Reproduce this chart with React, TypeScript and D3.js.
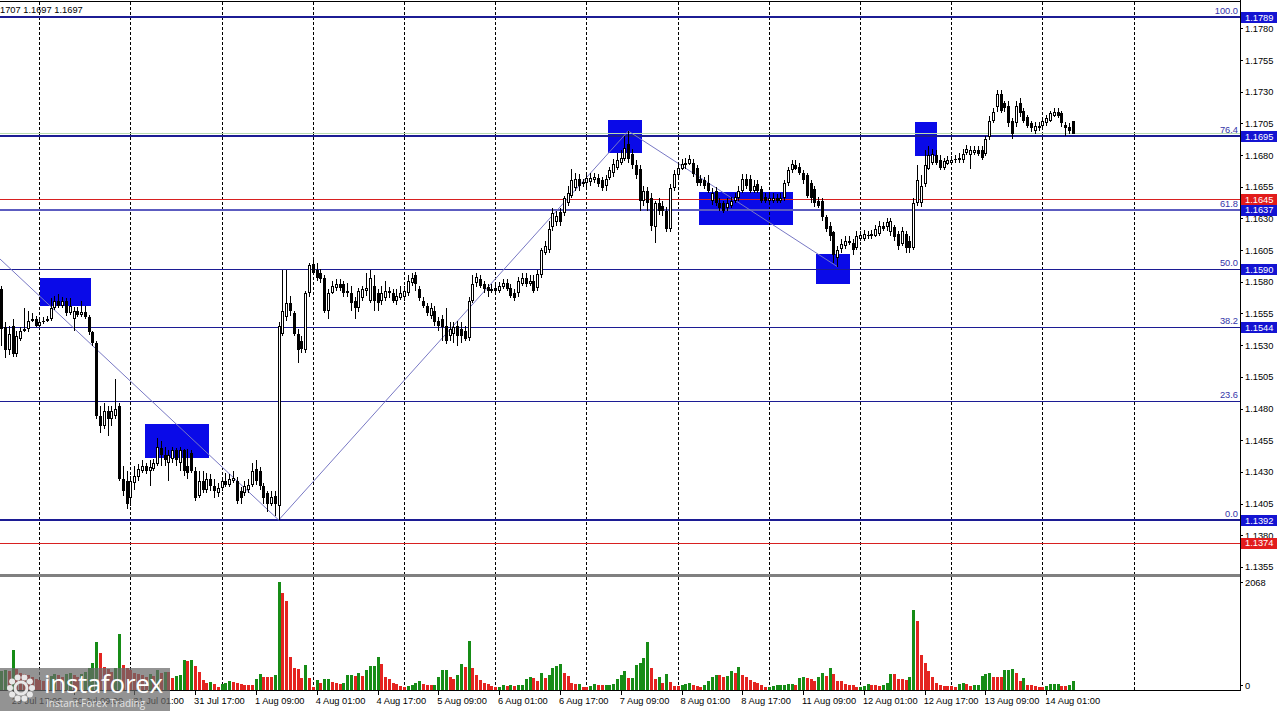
import React from "react";
import * as d3 from "d3";

// bar index 0 = 30 Jul 00:00 (H1 bars, weekend skipped)
const FIRST_BAR = -10;

// prices in pips (1/10000)
const opens = [11574,11544,11526,11545,11523,11535,11541,11543,11549,11551,
11545,11548,11549,11551,11559,11565,11561,11565,11555,11551,11557,11554,11556,11552,11540,11532,11474,11466,11478,11472,
11474,11482,11424,11423,11409,11421,11426,11431,11435,11431,11432,11436,11449,11443,11437,11440,11447,11437,11447,11435,
11445,11431,11411,11423,11416,11424,11419,11413,11417,11423,11420,11423,11423,11415,11413,11416,11420,11432,11431,11419,
11413,11405,11411,11403,11539,11552,11563,11555,11539,11533,11526,11571,11594,11589,11587,11583,11557,11571,11575,11578,
11578,11573,11571,11565,11559,11567,11573,11565,11577,11571,11565,11567,11573,11571,11565,11567,11568,11571,11579,11585,
11574,11565,11561,11553,11557,11549,11551,11545,11537,11539,11545,11543,11541,11536,11565,11579,11582,11578,11576,11573,
11575,11573,11576,11579,11575,11571,11571,11578,11583,11578,11581,11575,11585,11603,11605,11623,11627,11635,11634,11642,
11648,11654,11661,11659,11658,11659,11660,11662,11660,11656,11662,11666,11670,11674,11677,11689,11681,11672,11669,11644,
11652,11646,11623,11642,11640,11636,11622,11654,11664,11669,11672,11673,11674,11670,11661,11660,11658,11644,11652,11642,
11642,11638,11640,11644,11646,11652,11661,11661,11652,11657,11653,11647,11644,11644,11646,11644,11646,11658,11668,11672,
11671,11666,11664,11658,11653,11644,11644,11631,11624,11619,11599,11606,11608,11611,11611,11607,11614,11614,11616,11616,
11616,11618,11624,11623,11619,11623,11618,11610,11618,11612,11607,11642,11642,11657,11669,11674,11680,11676,11670,11673,
11674,11676,11676,11676,11682,11680,11682,11684,11684,11681,11694,11707,11718,11728,11721,11719,11707,11705,11721,11715,
11710,11705,11699,11701,11703,11705,11707,11711,11714,11713,11704,11702,11707];

const highs = [11577,11548,11545,11551,11541,11544,11559,11557,11555,11553,
11551,11552,11553,11567,11569,11570,11568,11567,11567,11560,11560,11565,11561,11554,11541,11533,11482,11484,11482,11482,
11503,11484,11435,11431,11427,11435,11436,11439,11437,11439,11440,11457,11454,11450,11447,11450,11449,11450,11448,11448,
11447,11434,11431,11431,11429,11428,11424,11421,11426,11429,11428,11431,11426,11418,11423,11424,11437,11439,11434,11421,
11415,11415,11415,11548,11589,11589,11569,11557,11543,11537,11573,11595,11597,11595,11590,11585,11574,11581,11582,11582,
11581,11579,11577,11568,11575,11577,11587,11589,11585,11574,11577,11581,11576,11574,11574,11577,11577,11585,11587,11588,
11577,11568,11563,11563,11561,11552,11554,11559,11548,11548,11549,11548,11545,11568,11585,11587,11585,11581,11578,11578,
11578,11580,11582,11582,11578,11574,11584,11587,11587,11585,11585,11589,11607,11612,11628,11638,11636,11638,11648,11656,
11669,11666,11665,11661,11666,11666,11666,11665,11663,11664,11671,11677,11682,11684,11695,11699,11685,11676,11672,11656,
11655,11650,11644,11646,11644,11639,11657,11668,11674,11677,11678,11680,11677,11672,11664,11663,11664,11654,11655,11646,
11644,11646,11647,11650,11656,11665,11665,11664,11660,11660,11656,11650,11649,11650,11649,11650,11660,11671,11676,11676,
11674,11668,11666,11660,11656,11647,11646,11633,11627,11620,11608,11614,11616,11616,11614,11620,11620,11621,11620,11621,
11625,11628,11627,11630,11630,11625,11620,11623,11620,11616,11646,11672,11664,11684,11687,11685,11684,11680,11678,11679,
11679,11680,11682,11685,11688,11687,11687,11687,11687,11695,11711,11717,11731,11731,11723,11723,11709,11723,11725,11717,
11712,11707,11706,11706,11710,11712,11715,11717,11717,11715,11706,11705,11707];

const lows = [11529,11520,11522,11521,11521,11533,11540,11540,11548,11544,
11544,11547,11548,11549,11558,11559,11559,11553,11554,11541,11552,11552,11551,11538,11529,11472,11461,11464,11458,11466,
11472,11423,11411,11401,11403,11416,11423,11429,11428,11419,11431,11435,11435,11435,11423,11437,11435,11431,11427,11424,
11429,11407,11409,11413,11413,11415,11409,11410,11415,11418,11418,11421,11405,11405,11411,11413,11418,11420,11416,11405,
11398,11403,11395,11392,11537,11549,11553,11537,11516,11524,11524,11568,11585,11581,11579,11555,11551,11570,11573,11573,
11568,11568,11557,11551,11556,11565,11569,11563,11557,11557,11562,11565,11567,11563,11562,11566,11565,11569,11577,11573,
11565,11559,11553,11551,11545,11541,11533,11531,11533,11532,11529,11532,11533,11533,11563,11576,11575,11571,11568,11571,
11571,11571,11574,11573,11567,11565,11568,11577,11576,11577,11571,11573,11583,11601,11603,11620,11624,11624,11632,11640,
11646,11652,11652,11655,11655,11656,11658,11655,11652,11652,11660,11663,11668,11672,11675,11674,11669,11661,11636,11640,
11636,11620,11611,11633,11632,11619,11619,11652,11661,11668,11669,11672,11663,11656,11656,11653,11650,11641,11640,11636,
11634,11636,11638,11642,11644,11650,11653,11650,11650,11650,11642,11642,11642,11642,11642,11642,11644,11656,11666,11668,
11664,11657,11646,11642,11639,11638,11628,11619,11612,11595,11592,11603,11606,11609,11601,11605,11612,11612,11614,11614,
11615,11616,11620,11620,11616,11612,11605,11608,11603,11603,11605,11640,11639,11655,11668,11672,11672,11668,11668,11672,
11672,11674,11674,11674,11680,11669,11680,11679,11676,11679,11692,11705,11714,11713,11714,11702,11693,11702,11710,11705,
11701,11698,11697,11699,11701,11703,11706,11710,11709,11702,11695,11697,11697];

const closes = [11543,11526,11539,11523,11537,11541,11543,11549,11551,11545,
11548,11549,11551,11559,11565,11561,11565,11555,11561,11557,11554,11556,11552,11540,11532,11474,11466,11478,11472,11478,
11480,11424,11415,11405,11423,11427,11432,11435,11431,11434,11437,11450,11443,11439,11443,11447,11439,11447,11431,11429,
11431,11409,11423,11416,11424,11419,11415,11417,11423,11420,11424,11425,11407,11409,11419,11420,11431,11423,11419,11409,
11405,11410,11405,11545,11557,11563,11557,11539,11526,11527,11571,11593,11587,11583,11582,11557,11571,11577,11578,11575,
11571,11571,11563,11559,11573,11574,11575,11583,11565,11563,11571,11573,11571,11565,11569,11571,11573,11581,11583,11578,
11567,11561,11555,11559,11548,11545,11544,11533,11543,11544,11537,11537,11535,11565,11578,11584,11577,11574,11573,11574,
11573,11577,11579,11574,11569,11567,11581,11583,11578,11581,11573,11586,11605,11608,11622,11634,11632,11627,11646,11650,
11660,11661,11656,11657,11662,11662,11663,11657,11654,11661,11668,11673,11676,11678,11686,11677,11672,11664,11644,11652,
11642,11624,11642,11636,11636,11622,11654,11665,11670,11673,11674,11677,11665,11658,11658,11656,11652,11650,11642,11638,
11636,11642,11644,11647,11652,11661,11656,11652,11656,11652,11644,11644,11646,11646,11644,11646,11658,11668,11673,11669,
11666,11660,11648,11646,11642,11640,11631,11622,11616,11601,11605,11610,11612,11612,11605,11616,11617,11618,11617,11618,
11622,11624,11622,11627,11628,11615,11608,11620,11607,11607,11642,11660,11656,11672,11680,11681,11674,11670,11675,11676,
11676,11677,11678,11681,11685,11684,11684,11681,11678,11693,11707,11714,11728,11715,11717,11705,11697,11719,11713,11707,
11703,11701,11703,11703,11707,11709,11713,11714,11711,11705,11701,11699,11697];

const volumes = [360,383,370,766,400,330,300,280,250,220,
200,180,170,260,300,280,240,300,330,280,250,300,350,420,520,926,702,447,400,350,
420,1072,479,420,380,330,300,280,250,300,260,380,330,351,340,223,268,287,575,562,
570,460,351,192,128,160,115,64,115,140,179,160,140,115,105,96,92,204,306,255,
250,245,287,2068,1851,1711,638,415,410,223,479,223,64,192,140,204,215,160,140,115,
140,287,295,268,319,268,383,460,465,630,490,255,204,128,115,80,55,80,96,128,
179,115,96,90,100,240,383,390,255,215,287,498,447,945,415,287,192,128,115,80,
55,64,96,86,90,86,90,96,204,255,223,179,319,223,287,430,460,498,319,268,
128,115,118,64,55,80,115,96,94,96,98,115,204,287,370,223,230,479,524,606,
926,415,204,243,128,306,160,80,78,96,115,128,96,80,64,96,179,255,287,285,
255,260,369,319,447,287,255,192,160,140,96,64,66,80,90,100,104,106,108,96,
223,243,223,220,179,255,319,268,415,306,179,175,115,96,90,64,66,70,115,96,
94,86,90,140,306,300,215,204,192,243,1532,1328,670,524,360,255,128,96,86,80,
70,64,115,128,110,86,88,96,268,306,319,245,243,240,383,390,395,319,179,223,
96,94,80,64,55,86,110,112,114,86,80,96,179];

const priceTicks = [1.178, 1.1755, 1.173, 1.1705, 1.168, 1.1655, 1.163, 1.1605, 1.158, 1.1555,
  1.153, 1.1505, 1.148, 1.1455, 1.143, 1.1405, 1.138, 1.1355];
const volumeTicks = [2068, 0];

const fibLevels = [1.1789, 1.1695, 1.1637, 1.159, 1.1544, 1.14857, 1.1392];
const fibNames = ["100.0", "76.4", "61.8", "50.0", "38.2", "23.6", "0.0"];
const fibWidths = [2, 2, 2, 1, 1, 1, 2];
const fibOnAxis = [true, true, true, true, true, false, true];
const redLevels = [1.1645, 1.1374];
const bidPrice = 1.1697;

const timeTickBars = [-7, 9, 25, 41, 57, 73, 89, 105, 121, 137, 153, 169, 185, 201, 217, 233, 249, 265];
const timeTickLabels = ["29 Jul 17:00", "30 Jul 09:00", "31 Jul 01:00", "31 Jul 17:00", "1 Aug 09:00",
  "4 Aug 01:00", "4 Aug 17:00", "5 Aug 09:00", "6 Aug 01:00", "6 Aug 17:00", "7 Aug 09:00",
  "8 Aug 01:00", "8 Aug 17:00", "11 Aug 09:00", "12 Aug 01:00", "12 Aug 17:00", "13 Aug 09:00", "14 Aug 01:00"];
const dayStartBars = [0, 24, 48, 72, 96, 120, 144, 168, 192, 216, 240, 264, 288];

// annotation rectangles: bar range and price range
const boxFromBar = [0.2, 27.8, 149.7, 173.6, 204.4, 230.4];
const boxToBar = [13.6, 44.7, 158.6, 198.4, 213.3, 236.2];
const boxHigh = [1.1583, 1.1468, 1.1708, 1.1651, 1.1602, 1.1706];
const boxLow = [1.1561, 1.1441, 1.1682, 1.1625, 1.1578, 1.1679];

// trend lines
const trendFromBar = [-10.35, 63, 155];
const trendFromPrice = [1.1598, 1.1392, 1.1699];
const trendToBar = [63, 155, 210];
const trendToPrice = [1.1392, 1.1699, 1.1592];

const topInfo = "1707 1.1697 1.1697";

const W = 1280, H = 711;
const AXIS_X = 1240;
const FONT = "'Liberation Sans', Arial, sans-serif";

export default function App() {
  const x = d3.scaleLinear().domain([0, 288]).range([39.3, 39.3 + 288 * 3.8]);
  const y = d3.scaleLinear().domain([1.1392, 1.1789]).range([520, 17]);
  const yv = d3.scaleLinear().domain([0, 2068]).range([690, 582]);
  const P = (v: number) => v / 10000;

  const bars = d3.range(opens.length).map((k) => ({
    i: FIRST_BAR + k,
    o: P(opens[k]), h: P(highs[k]), l: P(lows[k]), c: P(closes[k]),
    v: volumes[k],
    up: k === 0 ? true : volumes[k] > volumes[k - 1],
  }));

  const crisp = (v: number) => Math.round(v) + 0.5;
  const trendLine = d3.line<[number, number]>().x((d) => x(d[0])).y((d) => y(d[1]));

  return (
    <svg width={W} height={H} style={{ position: "absolute", left: 0, top: 0, background: "#fff" }}
      fontFamily={FONT}>
      <rect x={0} y={0} width={W} height={H} fill="#ffffff" />
      <clipPath id="pane"><rect x={0} y={2} width={AXIS_X} height={573} /></clipPath>
      <clipPath id="vpane"><rect x={0} y={577} width={AXIS_X} height={113} /></clipPath>

      {/* annotation boxes */}
      <g clipPath="url(#pane)">
        {boxFromBar.map((b, k) => (
          <rect key={"bx" + k} x={Math.round(x(boxFromBar[k]))} y={Math.round(y(boxHigh[k]))}
            width={Math.round(x(boxToBar[k]) - x(boxFromBar[k]))}
            height={Math.round(y(boxLow[k]) - y(boxHigh[k]))} fill="#0a0ae8" />
        ))}
      </g>

      {/* grid */}
      {dayStartBars.map((b) => (
        <line key={"g" + b} x1={crisp(x(b))} x2={crisp(x(b))} y1={2} y2={690}
          stroke="#000" strokeWidth={1} strokeDasharray="3,2" />
      ))}

      {/* levels */}
      <g clipPath="url(#pane)">
        <line x1={0} x2={AXIS_X} y1={crisp(y(bidPrice)) - 1} y2={crisp(y(bidPrice)) - 1} stroke="#b9dcb0" strokeWidth={1} />
        {fibLevels.map((v, k) => (
          <line key={"f" + k} x1={0} x2={AXIS_X} y1={fibWidths[k] === 2 ? Math.round(y(v)) : crisp(y(v))}
            y2={fibWidths[k] === 2 ? Math.round(y(v)) : crisp(y(v))}
            stroke={k === 2 ? "#5c5cc0" : "#1c1c94"} strokeWidth={fibWidths[k]} />
        ))}
        {redLevels.map((v, k) => (
          <line key={"r" + k} x1={0} x2={AXIS_X} y1={crisp(y(v))} y2={crisp(y(v))} stroke="#d82020" strokeWidth={1} />
        ))}
        {trendFromBar.map((b, k) => (
          <path key={"t" + k} d={trendLine([[trendFromBar[k], trendFromPrice[k]], [trendToBar[k], trendToPrice[k]]]) || ""}
            stroke="#7878c4" strokeWidth={1} fill="none" />
        ))}

        {/* candles */}
        {bars.map((d) => {
          const cx = crisp(x(d.i));
          const top = Math.round(y(Math.max(d.o, d.c)));
          const bot = Math.round(y(Math.min(d.o, d.c)));
          const hgt = Math.max(1, bot - top);
          const hi = Math.min(y(d.h), top);
          const lo = Math.max(y(d.l), bot);
          const bull = d.c >= d.o;
          return (
            <g key={"c" + d.i}>
              <line x1={cx} x2={cx} y1={Math.round(hi)} y2={Math.round(lo)} stroke="#000" strokeWidth={1} />
              <rect x={cx - 1.5} y={top} width={3} height={hgt} fill="#000" />
              {bull && hgt > 2 && <rect x={cx - 0.5} y={top + 1} width={1} height={hgt - 2} fill="#fff" />}
            </g>
          );
        })}
      </g>

      {/* volumes */}
      <g clipPath="url(#vpane)">
        {bars.map((d) => (
          <rect key={"v" + d.i} x={Math.round(x(d.i)) - 1} y={Math.round(yv(d.v))} width={3}
            height={690 - Math.round(yv(d.v))} fill={d.up ? "#168c16" : "#e42420"} />
        ))}
      </g>

      {/* frame */}
      <line x1={0} x2={AXIS_X} y1={1.5} y2={1.5} stroke="#000" strokeWidth={1} />
      <line x1={0} x2={AXIS_X} y1={575.5} y2={575.5} stroke="#808080" strokeWidth={3} />
      <line x1={AXIS_X + 0.5} x2={AXIS_X + 0.5} y1={0} y2={691} stroke="#000" strokeWidth={1} />
      <line x1={0} x2={AXIS_X + 1} y1={690.5} y2={690.5} stroke="#000" strokeWidth={1} />

      {/* price axis */}
      {priceTicks.map((v) => (
        <g key={"pt" + v}>
          <line x1={AXIS_X} x2={AXIS_X + 3} y1={crisp(y(v))} y2={crisp(y(v))} stroke="#000" />
          <text x={AXIS_X + 5} y={y(v) + 3.5} fontSize={9.3} fill="#000">{v.toFixed(4)}</text>
        </g>
      ))}
      {volumeTicks.map((v) => (
        <g key={"vt" + v}>
          <line x1={AXIS_X} x2={AXIS_X + 3} y1={crisp(yv(v)) - (v === 0 ? 5 : 0)} y2={crisp(yv(v)) - (v === 0 ? 5 : 0)} stroke="#000" />
          <text x={AXIS_X + 5} y={yv(v) + (v === 0 ? -1.5 : 4)} fontSize={9.3} fill="#000">{v}</text>
        </g>
      ))}

      {/* axis label boxes */}
      {fibLevels.map((v, k) => fibOnAxis[k] && (
        <g key={"fb" + k}>
          <rect x={AXIS_X + 1} y={Math.round(y(v)) - 5} width={36} height={11} fill="#1414d2" />
          <text x={AXIS_X + 5} y={y(v) + 3.5} fontSize={9.3} fill="#fff">{v.toFixed(4)}</text>
        </g>
      ))}
      {redLevels.map((v, k) => (
        <g key={"rb" + k}>
          <rect x={AXIS_X + 1} y={Math.round(y(v)) - 5} width={36} height={11} fill="#e21c1c" />
          <text x={AXIS_X + 5} y={y(v) + 3.5} fontSize={9.3} fill="#fff">{v.toFixed(4)}</text>
        </g>
      ))}

      {/* fib names */}
      {fibLevels.map((v, k) => (
        <text key={"fn" + k} x={AXIS_X - 2} y={Math.round(y(v)) - 3} fontSize={9.3} fill="#3434a8" textAnchor="end">{fibNames[k]}</text>
      ))}

      {/* time axis */}
      {timeTickBars.map((b, k) => (
        <g key={"tt" + b}>
          <line x1={crisp(x(b))} x2={crisp(x(b))} y1={691} y2={695} stroke="#000" />
          <text x={x(b) - 1} y={704} fontSize={9.3} fill="#000">{timeTickLabels[k]}</text>
        </g>
      ))}

      <text x={0} y={13} fontSize={9.3} fill="#000">{topInfo}</text>

      {/* logo */}
      <g>
        <rect x={0} y={668} width={170} height={43} fill="#6a6a6a" opacity={0.72} />
        {d3.range(10).map((k) => {
          const a = (k / 10) * Math.PI * 2;
          return <circle key={"lg" + k} cx={21 + Math.cos(a) * 11} cy={688 + Math.sin(a) * 11} r={3} fill="#e8e8e8" />;
        })}
        <circle cx={21} cy={688} r={6} fill="none" stroke="#e8e8e8" strokeWidth={3} />
        <text x={44} y={693} fontSize={26} fill="#ffffff" fontFamily="'Open Sans', sans-serif" letterSpacing={-0.3}>instaforex</text>
        <text x={46} y={707} fontSize={10} fill="#e4e4e4" fontFamily="'Open Sans', sans-serif">Instant Forex Trading</text>
      </g>
    </svg>
  );
}
